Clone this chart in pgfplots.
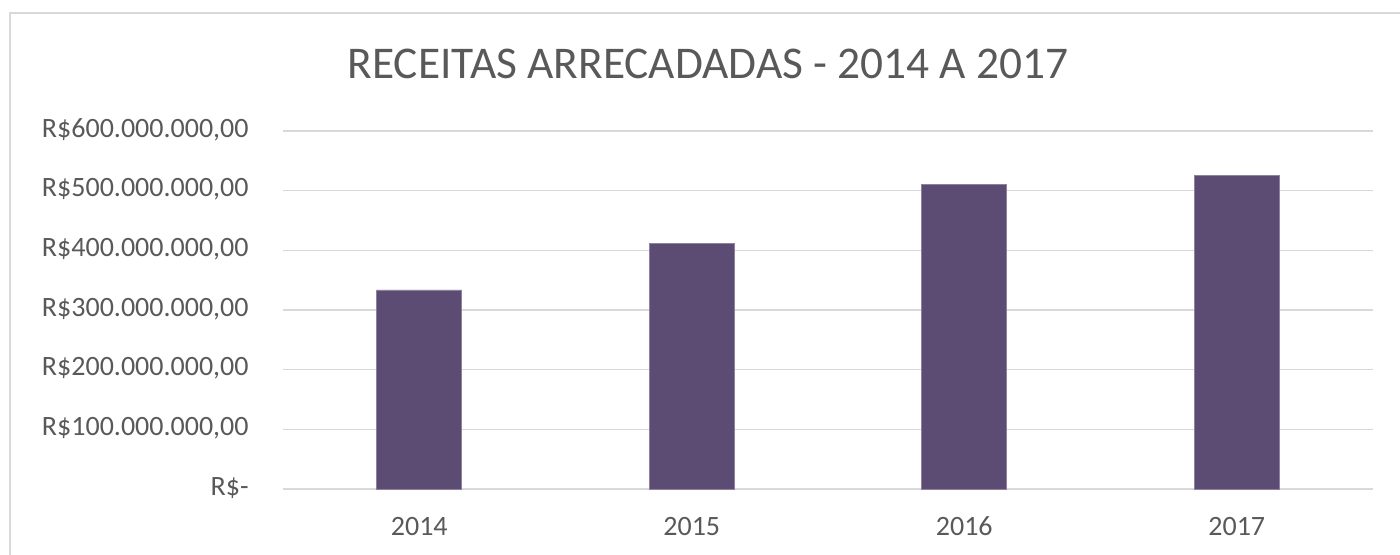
\documentclass[border=0pt]{standalone}
\usepackage{pgfplots}
\pgfplotsset{compat=1.18}
\usepackage{fontspec}
\setmainfont{Carlito}
\definecolor{barc}{HTML}{5C4B73}
\definecolor{gridc}{HTML}{D9D9D9}
\definecolor{txt}{HTML}{595959}
\begin{document}
\begin{tikzpicture}[x=1pt,y=1pt]
\useasboundingbox (-141.5pt,-32.5pt) rectangle (558.5pt,244.5pt);
\draw[gridc, line width=0.6pt] (-136.5pt,-60pt) -- (-136.5pt,238pt) -- (600pt,238pt);
\begin{axis}[
  at={(0pt,0pt)}, anchor=south west,
  scale only axis,
  width=545pt, height=179pt,
  xmin=-0.5, xmax=3.5,
  ymin=0, ymax=600000000,
  axis x line*=bottom, axis y line*=left,
  axis line style={draw=none},
  scaled y ticks=false,
  ymajorgrids,
  grid style={gridc, line width=0.75pt},
  xtick=data,
  xticklabels={2014,2015,2016,2017},
  ytick={0,100000000,200000000,300000000,400000000,500000000,600000000},
  yticklabels={R\$-\hspace{6pt},R\$100.000.000{,}00,R\$200.000.000{,}00,R\$300.000.000{,}00,R\$400.000.000{,}00,R\$500.000.000{,}00,R\$600.000.000{,}00},
  major tick length=0pt,
  tick label style={font=\fontsize{14pt}{16pt}\selectfont, text=txt},
  yticklabel style={anchor=base east, inner sep=0pt, xshift=-17pt, yshift=-3pt},
  xticklabel style={anchor=base, inner sep=0pt, yshift=-23pt},
  clip=false,
]
\draw[gridc, line width=0.75pt] (axis cs:-0.5,0) -- (axis cs:3.5,0);
\addplot[ybar, bar width=42.5pt, fill=barc, draw=barc!70!white, line width=0.3pt] coordinates {
  (0,333600000) (1,412000000) (2,510000000) (3,526000000)
};
\end{axis}
\node[anchor=base, text=txt, font=\fontsize{22.7pt}{26pt}\selectfont] at (212.5pt,205.5pt) {RECEITAS ARRECADADAS - 2014 A 2017};
\end{tikzpicture}
\end{document}
